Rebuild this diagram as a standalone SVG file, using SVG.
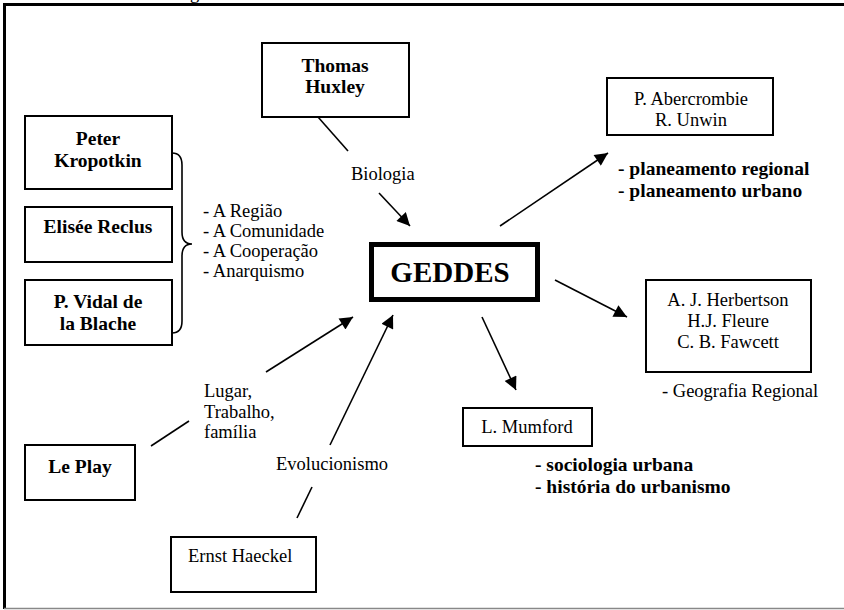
<svg xmlns="http://www.w3.org/2000/svg" width="844" height="610" viewBox="0 0 844 610">
<style>
  .box { fill: #fff; stroke: #000; stroke-width: 2; }
  .main { fill: #fff; stroke: #000; stroke-width: 5; }
  .ln { stroke: #000; stroke-width: 1.6; fill: none; }
  .arr { stroke: #000; stroke-width: 1.6; fill: none; marker-end: url(#ah); }
</style>
<defs>
  <marker id="ah" viewBox="0 0 10 10" refX="10" refY="5" markerUnits="userSpaceOnUse" markerWidth="17" markerHeight="13" orient="auto">
    <path d="M0,0 L10,5 L0,10 z" fill="#000"/>
  </marker>
</defs>
<rect width="844" height="610" fill="#fff"/>
<g id="frame">
  <line x1="3" y1="4.5" x2="844" y2="4.5" stroke="#000" stroke-width="3"/>
  <line x1="4.5" y1="3" x2="4.5" y2="609" stroke="#000" stroke-width="3"/>
  <line x1="4" y1="608.5" x2="844" y2="608.5" stroke="#888" stroke-width="1.5"/>
  <text x="190" y="-1" font-family="Liberation Serif, serif" font-size="18.5">g</text>
</g>
<g id="connectors">
  <line class="ln" x1="318" y1="117" x2="348" y2="151"/>
  <line class="arr" x1="379" y1="193" x2="410" y2="226"/>
  <line class="arr" x1="500" y1="226" x2="608" y2="153"/>
  <line class="arr" x1="555" y1="280" x2="627" y2="317"/>
  <line class="arr" x1="482" y1="317" x2="516" y2="390"/>
  <line class="ln" x1="151" y1="446" x2="189" y2="421"/>
  <line class="arr" x1="266" y1="372" x2="353" y2="317"/>
  <line class="ln" x1="297" y1="518" x2="312" y2="487"/>
  <line class="arr" x1="330" y1="445" x2="393" y2="315"/>
  <path class="ln" d="M172,153 Q182,153 182,165 L182,232 Q182,244 192,244 Q182,244 182,256 L182,321 Q182,333 172,333"/>
</g>
<g id="geddes">
  <rect class="main" x="371.5" y="244.5" width="166" height="55"/>
  <text x="450" y="282" font-family="Liberation Serif, serif" font-size="29" font-weight="bold" text-anchor="middle">GEDDES</text>
</g>
<g id="huxley" font-family="Liberation Serif, serif" font-size="19.5" font-weight="bold" text-anchor="middle">
  <rect class="box" x="262" y="43" width="147" height="74"/>
  <text x="335" y="72">Thomas</text>
  <text x="335" y="93">Huxley</text>
</g>
<g id="kropotkin" font-family="Liberation Serif, serif" font-size="19.5" font-weight="bold" text-anchor="middle">
  <rect class="box" x="25" y="116" width="147" height="73"/>
  <text x="98" y="145">Peter</text>
  <text x="98" y="167">Kropotkin</text>
</g>
<g id="reclus" font-family="Liberation Serif, serif" font-size="19.5" font-weight="bold" text-anchor="middle">
  <rect class="box" x="25" y="207" width="147" height="55"/>
  <text x="98" y="233">Elisée Reclus</text>
</g>
<g id="vidal" font-family="Liberation Serif, serif" font-size="19.5" font-weight="bold" text-anchor="middle">
  <rect class="box" x="25" y="280" width="147" height="65"/>
  <text x="98" y="308">P. Vidal de</text>
  <text x="98" y="330">la Blache</text>
</g>
<g id="ideas" font-family="Liberation Serif, serif" font-size="18.5">
  <text x="203" y="217">- A Região</text>
  <text x="203" y="237">- A Comunidade</text>
  <text x="203" y="257">- A Cooperação</text>
  <text x="203" y="277">- Anarquismo</text>
</g>
<g id="biologia" font-family="Liberation Serif, serif" font-size="18.5">
  <text x="351" y="180">Biologia</text>
</g>
<g id="abercrombie" font-family="Liberation Serif, serif" font-size="18.5">
  <rect class="box" x="607" y="78" width="166" height="57"/>
  <text x="691" y="105" text-anchor="middle">P. Abercrombie</text>
  <text x="691" y="126" text-anchor="middle">R. Unwin</text>
  <text x="618" y="175" font-size="19.5" font-weight="bold">- planeamento regional</text>
  <text x="618" y="197" font-size="19.5" font-weight="bold">- planeamento urbano</text>
</g>
<g id="herbertson" font-family="Liberation Serif, serif" font-size="18.5">
  <rect class="box" x="646" y="280" width="165" height="92"/>
  <text x="728" y="306" text-anchor="middle">A. J. Herbertson</text>
  <text x="728" y="327" text-anchor="middle">H.J. Fleure</text>
  <text x="728" y="348" text-anchor="middle">C. B. Fawcett</text>
  <text x="662" y="397">- Geografia Regional</text>
</g>
<g id="mumford" font-family="Liberation Serif, serif" font-size="18.5">
  <rect class="box" x="463" y="408" width="129" height="38"/>
  <text x="527" y="433" text-anchor="middle">L. Mumford</text>
  <text x="535" y="471" font-size="19.5" font-weight="bold">- sociologia urbana</text>
  <text x="535" y="493" font-size="19.5" font-weight="bold">- história do urbanismo</text>
</g>
<g id="leplay" font-family="Liberation Serif, serif" font-size="18.5">
  <rect class="box" x="25" y="445" width="110" height="55"/>
  <text x="80" y="473" font-size="19.5" font-weight="bold" text-anchor="middle">Le Play</text>
  <text x="204" y="397">Lugar,</text>
  <text x="204" y="418">Trabalho,</text>
  <text x="204" y="438">família</text>
</g>
<g id="haeckel" font-family="Liberation Serif, serif" font-size="18.5">
  <rect class="box" x="171" y="537" width="145" height="55"/>
  <text x="188" y="562">Ernst Haeckel</text>
  <text x="276" y="470">Evolucionismo</text>
</g>
</svg>
